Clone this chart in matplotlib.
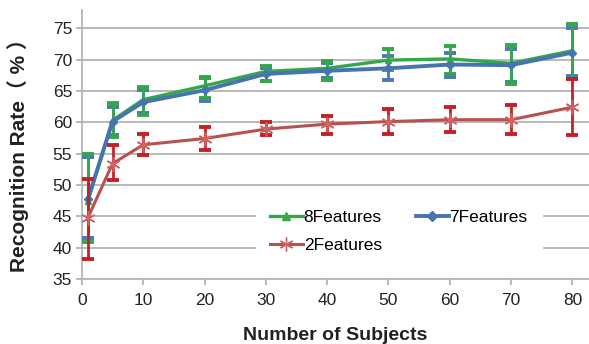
import matplotlib
matplotlib.use("Agg")
import matplotlib.pyplot as plt
from matplotlib.lines import Line2D
import numpy as np

plt.rcParams['font.family'] = ['Liberation Sans', 'Noto Sans CJK SC', 'DejaVu Sans']

# number of subjects
subjects = [1, 5, 10, 20, 30, 40, 50, 60, 70, 80]

# 8 features: mean, lower and upper end of error bar
feat8 = [47.5, 60.3, 63.6, 65.8, 68.1, 68.6, 69.9, 70.1, 69.4, 71.4]
feat8_lo = [40.9, 57.7, 61.2, 63.9, 66.6, 66.7, 68.3, 67.7, 66.1, 66.9]
feat8_hi = [55.0, 63.0, 65.6, 67.2, 68.9, 69.8, 71.6, 72.2, 72.3, 75.6]

# 7 features
feat7 = [47.8, 60.1, 63.2, 65.1, 67.7, 68.2, 68.6, 69.2, 69.1, 71.1]
feat7_lo = [41.5, 58.0, 61.5, 63.4, 66.5, 67.0, 66.7, 67.2, 66.4, 67.3]
feat7_hi = [54.5, 62.5, 65.2, 67.0, 68.7, 69.5, 70.6, 71.0, 71.6, 75.0]

# 2 features
feat2 = [44.8, 53.4, 56.4, 57.4, 58.9, 59.7, 60.1, 60.4, 60.4, 62.4]
feat2_lo = [38.2, 50.8, 54.7, 55.6, 57.9, 58.1, 58.2, 58.4, 58.1, 57.9]
feat2_hi = [51.0, 56.3, 58.1, 59.2, 60.1, 61.0, 62.1, 62.4, 62.7, 66.9]

x_ticks = [0, 10, 20, 30, 40, 50, 60, 70, 80]
y_ticks = [35, 40, 45, 50, 55, 60, 65, 70, 75]


def draw_err(ax, mean, lo, hi, col, z):
    mean = np.array(mean)
    yerr = np.vstack([mean - np.array(lo), np.array(hi) - mean])
    ax.errorbar(subjects, mean, yerr=yerr, fmt='none', ecolor=col,
                elinewidth=2.0, capsize=4.5, capthick=2.8, zorder=z)


fig = plt.figure(figsize=(5.89, 3.44), dpi=100)
ax = fig.add_axes([0.139, 0.189, 0.861, 0.782])

green = "#33a849"
blue = "#4674b3"
red_line = "#b8504e"
red_err = "#c42127"
red_mark = "#cf6565"

draw_err(ax, feat7, feat7_lo, feat7_hi, "#4a78b8", 3)
draw_err(ax, feat8, feat8_lo, feat8_hi, green, 3.2)
ax.plot(subjects, feat8, color=green, lw=2.4, marker='^', markersize=5,
        zorder=4)
ax.plot(subjects, feat7, color=blue, lw=2.8, marker='D', markersize=4.5,
        zorder=4.2)
draw_err(ax, feat2, feat2_lo, feat2_hi, red_err, 5)
ax.plot(subjects, feat2, color=red_line, lw=2.2, marker=(6, 2, 0),
        markersize=10, markeredgewidth=1.1, markeredgecolor=red_mark,
        zorder=5.5)

ax.set_xlim(0, 82.7)
ax.set_ylim(35, 77.9)
ax.set_xticks(x_ticks)
ax.set_yticks(y_ticks)
ax.grid(axis='y', color='#b4b4b4', lw=1.3)
ax.set_axisbelow(True)
for side in ['top', 'right']:
    ax.spines[side].set_visible(False)
ax.spines['left'].set_color('#b4b4b4')
ax.spines['bottom'].set_color('#b4b4b4')
ax.spines['left'].set_linewidth(1.3)
ax.spines['bottom'].set_linewidth(1.3)
ax.tick_params(axis='both', colors='#b4b4b4', labelcolor='#222222',
               labelsize=12.5, length=4, width=1.3)
ax.tick_params(axis='y', pad=3)
ax.tick_params(axis='x', pad=6)

ax.set_xlabel("Number of Subjects", fontsize=14, fontweight='bold',
              color='#222222', va='center')
ax.xaxis.set_label_coords(0.5, -0.21)
ax.set_ylabel("Recognition Rate（ % ）", fontsize=15, fontweight='bold',
              color='#222222', va='center')
ax.yaxis.set_label_coords(-0.126, 0.48)

# legend order is column-major: 8F, 2F in first column, 7F in second
handles = [
    Line2D([], [], color=green, lw=2.4, marker='^', markersize=6),
    Line2D([], [], color=red_line, lw=2.2, marker=(6, 2, 0), markersize=10,
           markeredgewidth=1.0, markeredgecolor=red_mark),
    Line2D([], [], color=blue, lw=2.8, marker='D', markersize=5),
]
labels = ["8Features", "2Features", "7Features"]
leg = ax.legend(handles, labels, ncol=2, loc='center',
                bbox_to_anchor=(0.677, 0.327), bbox_transform=fig.transFigure,
                fontsize=12.5, frameon=True, facecolor='white',
                edgecolor='white', framealpha=1.0, fancybox=False,
                handlelength=1.9, handletextpad=0.05, columnspacing=1.95,
                labelspacing=0.75, borderpad=0.8)
leg.set_zorder(10)

fig.savefig("out.png", dpi=100)
